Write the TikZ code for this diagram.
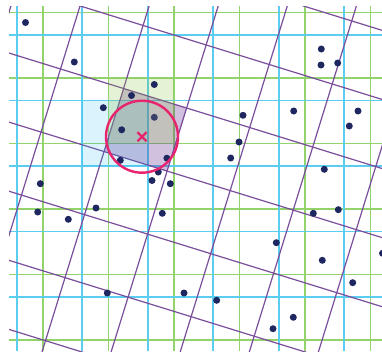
\documentclass[tikz,border=0pt]{standalone}
\usepackage{tikz}
\usetikzlibrary{positioning}
\definecolor{gridcyan}{HTML}{5ACDF1}
\definecolor{gridgreen}{HTML}{92D36C}
\definecolor{gridpurple}{HTML}{7A4E9C}
\definecolor{cellcyan}{HTML}{1FB4EC}
\definecolor{cellgreen}{HTML}{8DC63F}
\definecolor{cellpurple}{HTML}{662D91}
\definecolor{navy}{HTML}{1E2760}
\definecolor{querypink}{HTML}{E8246F}
\tikzset{
	cyanline/.style={draw=gridcyan, line width=1.6pt},
	greenline/.style={draw=gridgreen, line width=1.4pt},
	purpleline/.style={draw=gridpurple, line width=1.2pt},
	datapoint/.style={
			circle,
			fill=navy,
			minimum size=7pt,
			inner sep=0pt
		},
	fadedpoint/.style={
			datapoint,
			fill=navy!70!gray
		},
	querymark/.style={draw=querypink, line width=2pt}
}

\begin{document}
\begin{tikzpicture}[x=1pt, y=-1pt]
\useasboundingbox (0,0) rectangle (382,351);

\begin{scope}
\clip (9,6) rectangle (382,351);
% two shifted axis grids
\foreach \x in {43,108.5,174,239.5,305,370.5}
  \draw[greenline] (\x,0) -- (\x,351);
\foreach \y in {12.3,77.8,143.3,208.8,274.3,339.8}
  \draw[greenline] (0,\y) -- (382,\y);
\foreach \x in {16.7,82.2,147.7,213.2,278.7,344.2}
  \draw[cyanline] (\x,0) -- (\x,351);
\foreach \y in {35,100.5,166,231.5,297}
  \draw[cyanline] (0,\y) -- (382,\y);

% rotated grid
\begin{scope}[x={(0.9553pt,-0.2957pt)}, y={(-0.2957pt,-0.9553pt)}]
\foreach \a in {12.2,78.2,144.2,210.2,276.2,342.2,408.2}
  \draw[purpleline] (\a,-120) -- (\a,350);
\foreach \b in {-84,-18,48,114,180,246,312}
  \draw[purpleline] (-10,\b) -- (480,\b);
\fill[cellpurple, fill opacity=0.3] (144.2,48) -- (210.2,48) -- (210.2,114) -- (144.2,114) -- cycle;
\end{scope}

\fill[cellcyan, fill opacity=0.16] (82.2,100.5) rectangle (147.7,166);
\fill[cellgreen, fill opacity=0.22] (108.5,77.8) rectangle (174,143.3);
\end{scope}

\node[datapoint] (d1) at (25.5,22.5) {};
\node[datapoint] (d2) at (74.3,62) {};
\node[datapoint] (d3) at (154.3,84.5) {};
\node[datapoint] (d4) at (131.5,95.5) {};
\node[datapoint] (d5) at (103.3,107.7) {};
\node[fadedpoint] (d6) at (154.3,117.3) {};
\node[datapoint] (d7) at (121.7,129.8) {};
\node[datapoint] (d8) at (120.3,160.3) {};
\node[datapoint] (d9) at (166.9,158.2) {};
\node[datapoint] (d10) at (158.3,172) {};
\node[datapoint] (d11) at (152,180.5) {};
\node[datapoint] (d12) at (321.3,49) {};
\node[datapoint] (d13) at (321,65) {};
\node[datapoint] (d14) at (337.7,63) {};
\node[datapoint] (d15) at (293.7,111) {};
\node[datapoint] (d16) at (358,111) {};
\node[datapoint] (d17) at (349.3,126) {};
\node[datapoint] (d18) at (243,115.3) {};
\node[datapoint] (d19) at (239,142) {};
\node[datapoint] (d20) at (230.7,158) {};
\node[datapoint] (d21) at (324.3,169.3) {};
\node[datapoint] (d22) at (40.3,183.7) {};
\node[datapoint] (d23) at (170.3,183.7) {};
\node[datapoint] (d24) at (37.7,212) {};
\node[datapoint] (d25) at (68.3,219.3) {};
\node[datapoint] (d26) at (96,208) {};
\node[datapoint] (d27) at (162.3,213.3) {};
\node[datapoint] (d28) at (107.3,293) {};
\node[datapoint] (d29) at (184,293) {};
\node[datapoint] (d30) at (313.3,213.3) {};
\node[datapoint] (d31) at (338.3,209.7) {};
\node[datapoint] (d32) at (276.3,242.7) {};
\node[datapoint] (d33) at (322.3,260.3) {};
\node[datapoint] (d34) at (352.7,282.7) {};
\node[datapoint] (d35) at (216.7,300.3) {};
\node[datapoint] (d36) at (293.3,317.3) {};
\node[datapoint] (d37) at (273,328.7) {};
\node[datapoint] (d38) at (382.5,253.3) {};

% query point and its radius
\coordinate (q) at (142,136.7);
\draw[querymark, line width=2.4pt] (q) circle (36);
\draw[querymark, line width=2.2pt] ([shift={(-4.5,-4.5)}]q) -- ([shift={(4.5,4.5)}]q);
\draw[querymark, line width=2.2pt] ([shift={(-4.5,4.5)}]q) -- ([shift={(4.5,-4.5)}]q);
\end{tikzpicture}
\end{document}
